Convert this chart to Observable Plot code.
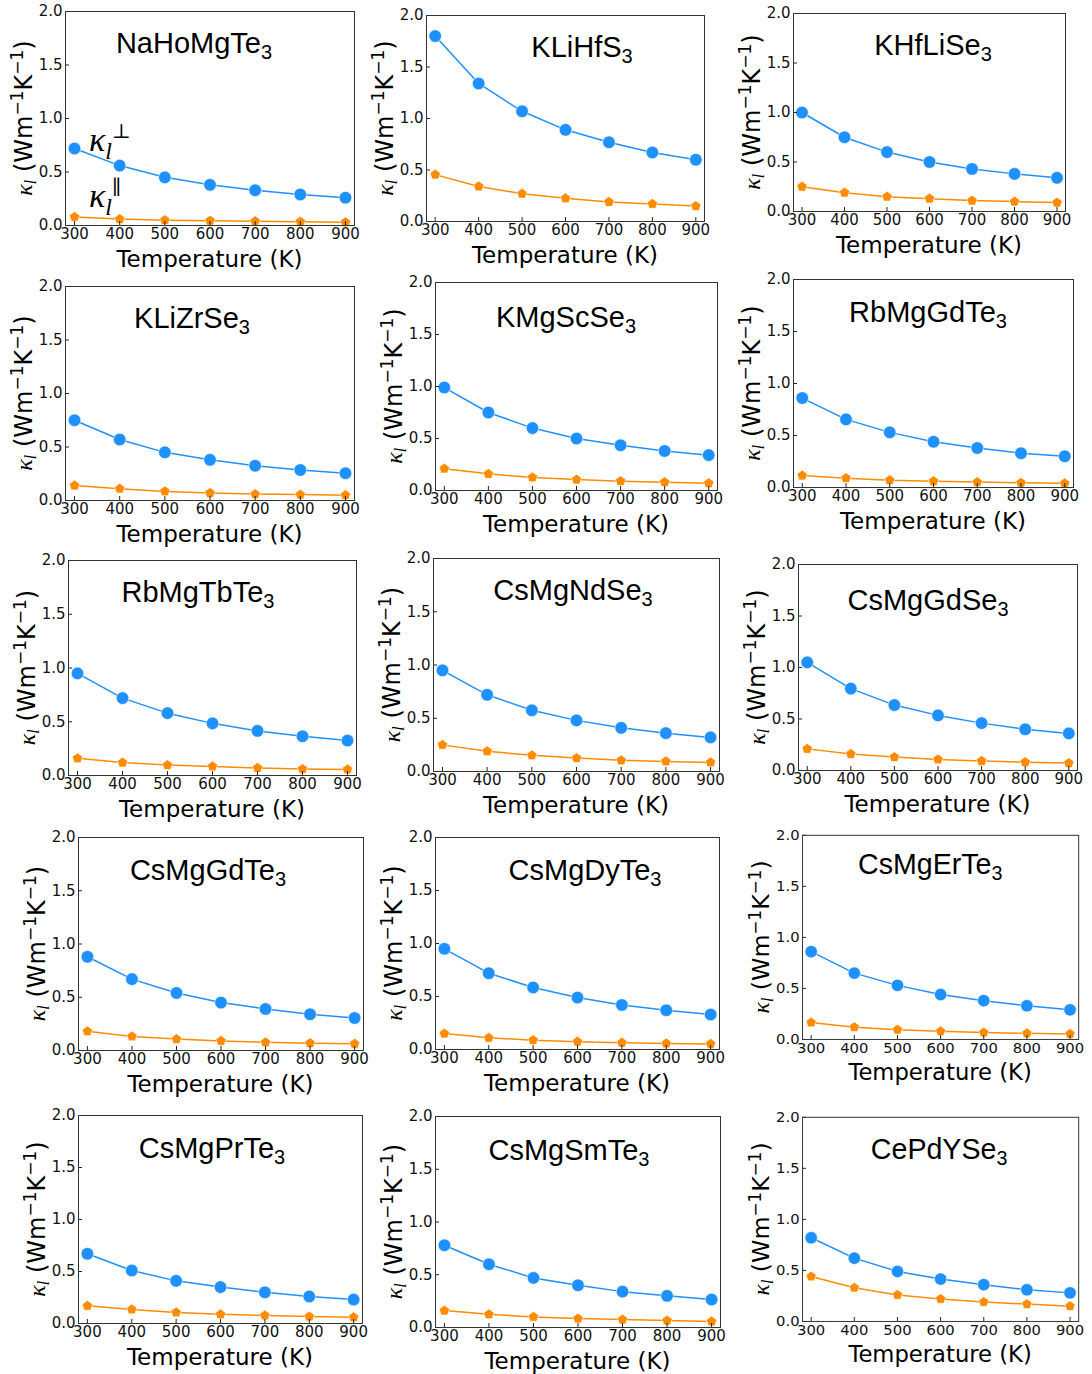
<!DOCTYPE html>
<html><head><meta charset="utf-8">
<script src="https://cdn.jsdelivr.net/npm/d3@7"></script>
<script src="https://cdn.jsdelivr.net/npm/@observablehq/plot@0.6"></script>
<style>
body{margin:0;background:#fff;}
#root{position:relative;width:1092px;height:1374px;overflow:hidden;background:#fff;}
.panel{position:absolute;}
</style></head><body><div id="root"></div>
<script>
// ---------------- data ----------------
const temperatures = [300, 400, 500, 600, 700, 800, 900];
const xTicks = [300, 400, 500, 600, 700, 800, 900];
const yTicks = [0, 0.5, 1.0, 1.5, 2.0];
const materials = [
  "NaHoMgTe3", "KLiHfS3", "KHfLiSe3",
  "KLiZrSe3", "KMgScSe3", "RbMgGdTe3",
  "RbMgTbTe3", "CsMgNdSe3", "CsMgGdSe3",
  "CsMgGdTe3", "CsMgDyTe3", "CsMgErTe3",
  "CsMgPrTe3", "CsMgSmTe3", "CePdYSe3"
];
// kappa_l perpendicular (blue circles)
const kappaPerp = [
  [0.72, 0.56, 0.45, 0.38, 0.33, 0.29, 0.26],
  [1.80, 1.34, 1.07, 0.89, 0.77, 0.67, 0.60],
  [1.00, 0.75, 0.60, 0.50, 0.43, 0.38, 0.34],
  [0.75, 0.57, 0.45, 0.38, 0.325, 0.285, 0.255],
  [0.99, 0.75, 0.60, 0.50, 0.435, 0.38, 0.34],
  [0.86, 0.655, 0.53, 0.44, 0.38, 0.33, 0.30],
  [0.95, 0.72, 0.58, 0.485, 0.415, 0.365, 0.325],
  [0.95, 0.72, 0.575, 0.48, 0.41, 0.36, 0.32],
  [1.05, 0.795, 0.635, 0.535, 0.46, 0.40, 0.36],
  [0.88, 0.67, 0.54, 0.45, 0.39, 0.34, 0.305],
  [0.95, 0.72, 0.585, 0.49, 0.42, 0.37, 0.33],
  [0.86, 0.65, 0.53, 0.44, 0.38, 0.33, 0.29],
  [0.67, 0.51, 0.41, 0.35, 0.30, 0.26, 0.23],
  [0.78, 0.60, 0.47, 0.40, 0.34, 0.30, 0.265],
  [0.82, 0.62, 0.49, 0.415, 0.36, 0.31, 0.28]
];
// kappa_l parallel (orange pentagons)
const kappaPar = [
  [0.08, 0.06, 0.05, 0.045, 0.04, 0.035, 0.03],
  [0.455, 0.34, 0.27, 0.225, 0.19, 0.17, 0.15],
  [0.25, 0.19, 0.15, 0.13, 0.11, 0.10, 0.09],
  [0.14, 0.11, 0.085, 0.07, 0.06, 0.055, 0.05],
  [0.21, 0.16, 0.125, 0.105, 0.09, 0.08, 0.07],
  [0.115, 0.09, 0.07, 0.06, 0.052, 0.045, 0.04],
  [0.16, 0.12, 0.097, 0.084, 0.07, 0.06, 0.056],
  [0.25, 0.19, 0.152, 0.126, 0.105, 0.095, 0.085],
  [0.21, 0.16, 0.13, 0.107, 0.092, 0.081, 0.072],
  [0.18, 0.132, 0.107, 0.09, 0.077, 0.069, 0.063],
  [0.15, 0.11, 0.088, 0.074, 0.064, 0.057, 0.053],
  [0.166, 0.12, 0.095, 0.08, 0.068, 0.06, 0.054],
  [0.17, 0.135, 0.106, 0.088, 0.077, 0.067, 0.06],
  [0.16, 0.125, 0.10, 0.085, 0.075, 0.066, 0.057],
  [0.44, 0.33, 0.26, 0.22, 0.19, 0.17, 0.15]
];

// ---------------- layout (page px) ----------------
const frames = [
  [65, 11, 354, 225], [426, 15, 704, 221], [793, 13, 1065, 211],
  [65, 286, 354, 500], [435, 282, 717, 490], [793, 279, 1073, 487],
  [68, 560, 356, 775], [433, 558, 719, 771], [798, 564, 1077, 770],
  [78, 837, 363, 1050], [435, 837, 719, 1049], [803, 835, 1083, 1042],
  [78, 1115, 362, 1323], [435, 1116, 720, 1327], [803, 1117, 1083, 1324]
];
const titleOffsets = [
  [129, 42], [156, 42], [140, 42],
  [127, 42], [131, 45], [135, 43],
  [130, 42], [140, 42], [130, 46],
  [130, 43], [150, 43], [130, 40],
  [134, 43], [134, 44], [139, 43]
];

const BLUE = "#1e90ff", ORANGE = "#ff8c00";
const SERIF = "'Liberation Serif', 'DejaVu Serif', serif";
const SANS = "'DejaVu Sans', sans-serif";
const pentagon = {
  draw(ctx, size) {
    const R = Math.sqrt(size / 2.3776);
    for (let i = 0; i < 5; i++) {
      const a = -Math.PI / 2 + i * 2 * Math.PI / 5;
      const x = R * Math.cos(a), y = R * Math.sin(a);
      if (i) ctx.lineTo(x, y); else ctx.moveTo(x, y);
    }
    ctx.closePath();
  }
};

const ML = 70, MR = 14, MT = 14, MB = 62;
const root = document.getElementById("root");

materials.forEach((name, i) => {
  const [l, t, r, b] = frames[i];
  const W = r - l, H = b - t;
  const perp = temperatures.map((T, j) => ({T, k: kappaPerp[i][j]}));
  const par = temperatures.map((T, j) => ({T, k: kappaPar[i][j]}));
  const svg = Plot.plot({
    width: W + ML + MR, height: H + MT + MB,
    marginLeft: ML, marginRight: MR, marginTop: MT, marginBottom: MB,
    style: {background: "transparent", overflow: "visible", fontFamily: SANS, fontSize: "15px", color: "#000"},
    x: {domain: [280, 920]},
    y: {domain: [0, 2]},
    marks: [
      Plot.line(par, {x: "T", y: "k", stroke: ORANGE, strokeWidth: 1.5}),
      Plot.line(perp, {x: "T", y: "k", stroke: BLUE, strokeWidth: 1.5}),
      Plot.dot(par, {x: "T", y: "k", r: 4.7, symbol: pentagon, fill: ORANGE, stroke: "white", strokeWidth: 0.6}),
      Plot.dot(perp, {x: "T", y: "k", r: 6.3, fill: BLUE, stroke: "white", strokeWidth: 0.6}),
      Plot.axisY({ticks: yTicks, tickSize: 4, dx: 4, fill: "none", label: null, stroke: "#222"}),
      Plot.axisY({ticks: yTicks, tickSize: 0, tickPadding: 3, label: null, tickFormat: d3.format(".1f"), fill: "#111"}),
      Plot.axisX({ticks: xTicks, tickSize: 4, dy: -4, fill: "none", label: null, stroke: "#222"}),
      Plot.axisX({ticks: xTicks, tickSize: 0, tickPadding: 3, label: null, fill: "#111"}),
      Plot.frame({stroke: "#333", strokeWidth: 1})
    ]
  });
  const s = d3.select(svg);
  // title with subscript
  const m = name.match(/^(.*?)(\d+)$/);
  const tt = s.append("text")
    .attr("x", ML + titleOffsets[i][0]).attr("y", MT + titleOffsets[i][1])
    .attr("text-anchor", "middle").attr("font-family", "'Liberation Sans', Arial, sans-serif")
    .attr("font-size", 29).attr("fill", "#000");
  tt.append("tspan").text(m[1]);
  tt.append("tspan").attr("font-size", 20).attr("dy", 6).text(m[2]);
  // y label
  const yl = s.append("text")
    .attr("transform", `translate(${ML - 33},${MT + H / 2}) rotate(-90)`)
    .attr("text-anchor", "middle").attr("font-family", SANS).attr("font-size", 24).attr("fill", "#000");
  yl.append("tspan").attr("font-family", SERIF).attr("font-style", "italic").attr("font-size", 24).text("κ");
  yl.append("tspan").attr("font-family", SERIF).attr("font-style", "italic").attr("font-size", 16).attr("dy", 4).text("l");
  yl.append("tspan").attr("dy", -4).text(" (Wm");
  yl.append("tspan").attr("font-size", 17).attr("dy", -9).text("−1");
  yl.append("tspan").attr("dy", 9).text("K");
  yl.append("tspan").attr("font-size", 17).attr("dy", -9).text("−1");
  yl.append("tspan").attr("dy", 9).text(")");
  // x label
  s.append("text").attr("x", ML + W / 2).attr("y", MT + H + 42)
    .attr("text-anchor", "middle").attr("font-family", SANS).attr("font-size", 23).attr("fill", "#000")
    .text("Temperature (K)");
  if (i === 0) {
    const addK = (y, sup) => {
      const a = s.append("text").attr("x", ML + 24).attr("y", MT + y)
        .attr("text-anchor", "start")
        .attr("font-family", SERIF).attr("font-style", "italic").attr("font-size", 34).attr("fill", "#000");
      a.append("tspan").text("κ");
      a.append("tspan").attr("font-size", 24).attr("dy", 8).text("l");
      a.append("tspan").attr("font-style", "normal").attr("font-size", 20).attr("dy", -21).text(sup);
    };
    addK(140, "⊥");
    addK(196, "∥");
  }
  const div = document.createElement("div");
  div.className = "panel";
  div.style.left = (l - ML) + "px";
  div.style.top = (t - MT) + "px";
  div.appendChild(svg);
  root.appendChild(div);
});
</script>
</body></html>
